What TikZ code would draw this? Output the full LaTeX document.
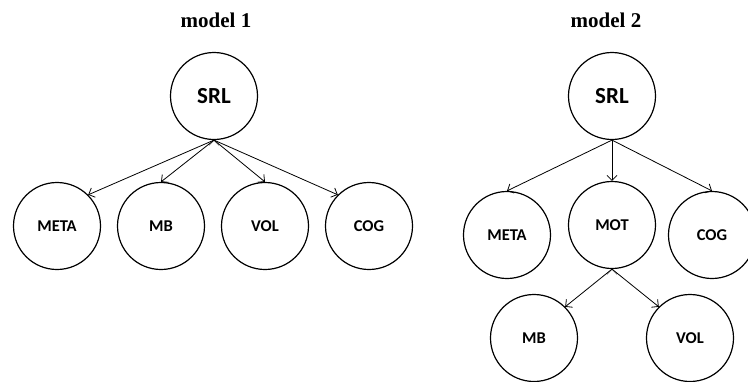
\documentclass[tikz,border=0pt]{standalone}
\usepackage{fontspec}
\setmainfont{Liberation Serif}
\newfontfamily\labelfont{Carlito}
\usetikzlibrary{positioning, arrows.meta}
\tikzset{
  ->,
  >={Straight Barb[length=5pt,width=10pt]},
  node distance=104pt,
  factor/.style={circle, draw, line width=1.2pt, minimum size=87pt, inner sep=0pt,
    font=\labelfont\bfseries\fontsize{16.5}{16.5}\selectfont},
  root/.style={factor, font=\labelfont\bfseries\fontsize{23}{23}\selectfont},
  heading/.style={anchor=base, font=\bfseries\fontsize{21}{24}\selectfont},
  every edge/.style={draw, line width=0.8pt},
}

\begin{document}
\begin{tikzpicture}[x=1pt, y=-1pt]
  \useasboundingbox (0,0) rectangle (748,381);

  % model 1
  \node[heading] (t1) at (216,27) {model 1};
  \node[root] (srl1) at (214,96) {SRL};
  \node[factor] (meta1) at (57,226) {META};
  \node[factor, right of=meta1] (mb1) {MB};
  \node[factor, right of=mb1] (vol1) {VOL};
  \node[factor, right of=vol1] (cog1) {COG};

  \draw (srl1.south) edge (meta1.north east)
  (srl1.south) edge (mb1.north)
  (srl1.south) edge (vol1.north)
  (srl1.south) edge (cog1.north west);

  % model 2
  \node[heading] (t2) at (606,27) {model 2};
  \node[root] (srl2) at (612,96) {SRL};
  \node[factor] (mot2) at (612,225) {MOT};
  \node[factor] (meta2) at (507,235) {META};
  \node[factor] (cog2) at (712,235) {COG};
  \node[factor] (mb2) at (534,338) {MB};
  \node[factor] (vol2) at (690,338) {VOL};

  \draw (srl2.south) edge (meta2.north)
  (srl2.south) edge (mot2.north)
  (srl2.south) edge (cog2.north)
  (mot2.south) edge (mb2.north east)
  (mot2.south) edge (vol2.north west);

\end{tikzpicture}
\end{document}
